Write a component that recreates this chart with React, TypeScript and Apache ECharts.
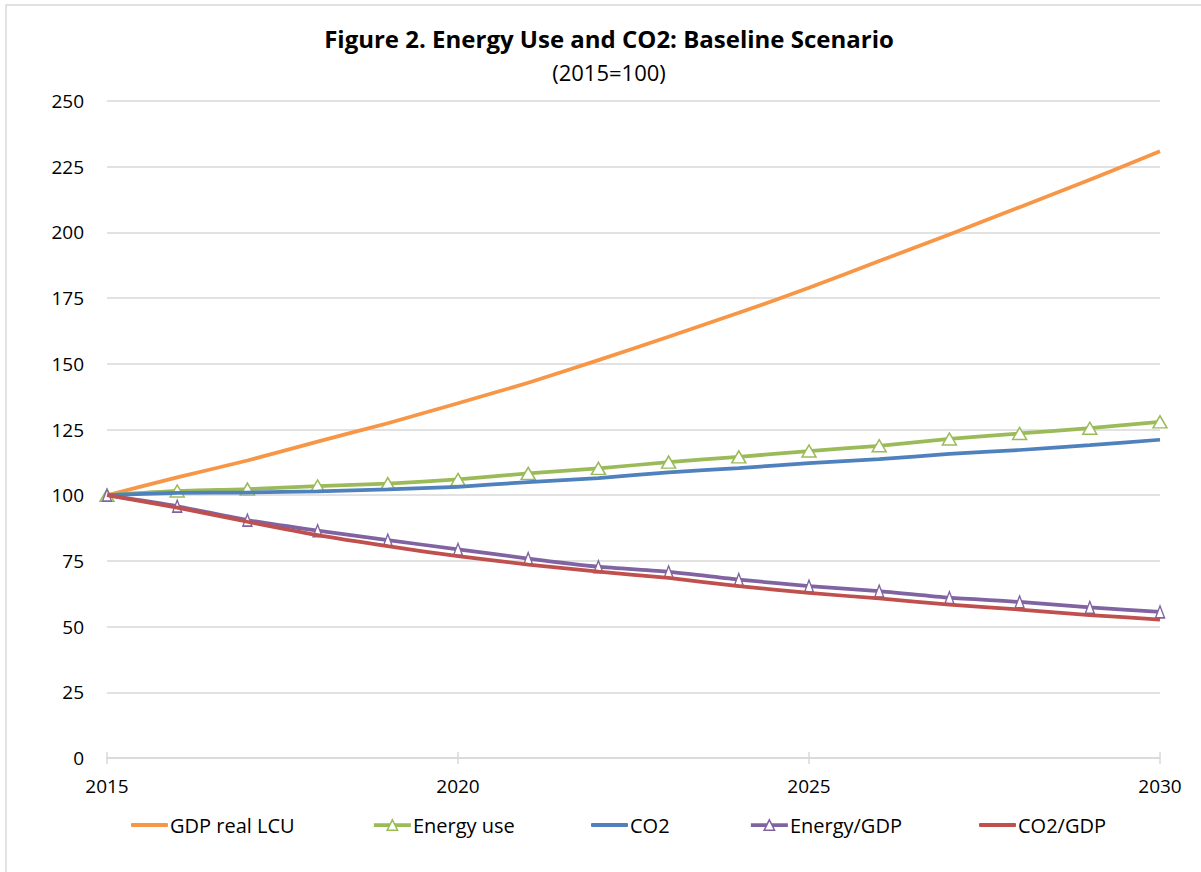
import React, { useEffect, useRef } from "react";
import * as echarts from "echarts";

const years = [2015, 2016, 2017, 2018, 2019, 2020, 2021, 2022, 2023, 2024, 2025, 2026, 2027, 2028, 2029, 2030];
const gdp = [100, 106.8, 113.2, 120.4, 127.4, 135, 142.8, 151.4, 160.3, 169.4, 178.9, 189.1, 199.2, 209.6, 220, 230.9];
const energy = [100, 101.6, 102.3, 103.5, 104.4, 106, 108.3, 110.2, 112.6, 114.6, 116.8, 118.8, 121.4, 123.5, 125.5, 127.9];
const co2 = [100, 100.9, 101, 101.5, 102.2, 103.2, 105, 106.5, 108.7, 110.3, 112.2, 113.7, 115.7, 117.2, 119.1, 121.1];
const energyGdp = [100, 95.8, 90.5, 86.5, 82.9, 79.4, 75.9, 72.8, 70.8, 67.9, 65.4, 63.5, 61, 59.4, 57.3, 55.6];
const co2Gdp = [100, 95.3, 89.9, 84.8, 80.6, 76.8, 73.6, 70.9, 68.5, 65.4, 62.8, 60.7, 58.4, 56.5, 54.4, 52.7];

const seriesNames = ["GDP real LCU", "Energy use", "CO2", "Energy/GDP", "CO2/GDP"];
const seriesColors = ["#f79646", "#9bbb59", "#4f81bd", "#8064a2", "#c0504d"];
const legendLefts = [131, 372, 591, 749, 979];

const FONT = "'Open Sans', 'Noto Sans', sans-serif";

export default function App() {
  const ref = useRef<HTMLDivElement>(null);
  useEffect(() => {
    if (!ref.current) return;
    const chart = echarts.init(ref.current, null, { renderer: "svg" });
    const values = [gdp, energy, co2, energyGdp, co2Gdp];
    const series = values.map((arr, i) => {
      const hasMarker = i === 1 || i === 3;
      return {
        name: seriesNames[i],
        type: "line",
        data: years.map((y, k) => [y, arr[k]]),
        smooth: 0.2,
        symbol: hasMarker ? "triangle" : "none",
        symbolSize: i === 1 ? [14, 12] : [9, 12],
        showSymbol: hasMarker,
        lineStyle: { color: seriesColors[i], width: 3.75 },
        itemStyle: hasMarker
          ? { color: "#ffffff", borderColor: seriesColors[i], borderWidth: 1.5 }
          : { color: seriesColors[i] },
        emphasis: { disabled: true },
        z: 2 + i,
      };
    });
    const legends = seriesNames.map((n, i) => {
      const hasMarker = i === 1 || i === 3;
      const base: any = {
        data: [n],
        left: legendLefts[i],
        top: 815,
        padding: 0,
        itemWidth: 37,
        itemGap: 2,
        textStyle: { fontSize: 20, color: "#000", fontFamily: FONT, padding: [0, 0, 0, -3] },
        selectedMode: false,
      };
      if (hasMarker) {
        base.itemHeight = 13;
        base.itemStyle = { color: "#ffffff", borderColor: seriesColors[i], borderWidth: 1.5 };
        base.lineStyle = { color: seriesColors[i], width: 3.75 };
      } else {
        base.itemHeight = 4;
        base.icon = "roundRect";
        base.itemStyle = { color: seriesColors[i] };
      }
      return base;
    });
    chart.setOption({
      animation: false,
      textStyle: { fontFamily: FONT },
      title: [
        {
          text: "Figure 2. Energy Use and CO2: Baseline Scenario",
          left: 604,
          top: 21,
          textAlign: "center",
          textStyle: { fontSize: 24, fontWeight: "bold", color: "#000", fontFamily: FONT },
        },
        {
          text: "(2015=100)",
          left: 604,
          top: 56,
          textAlign: "center",
          textStyle: { fontSize: 22, fontWeight: "normal", color: "#000", fontFamily: FONT },
        },
      ],
      legend: legends,
      grid: { left: 107, right: 41, top: 101, bottom: 114, containLabel: false },
      xAxis: [
        {
          type: "value",
          min: 2015,
          max: 2030,
          interval: 5,
          axisLine: { lineStyle: { color: "#d9d9d9", width: 1.5 } },
          axisTick: { show: true, length: 6, lineStyle: { color: "#d9d9d9", width: 1.5 } },
          axisLabel: { fontSize: 19, color: "#000", margin: 18, fontFamily: FONT, formatter: (v: number) => String(v) },
          splitLine: { show: false },
        },
        {
          type: "value",
          position: "bottom",
          min: 2015,
          max: 2030,
          interval: 5,
          axisLine: { show: false },
          axisTick: { show: true, inside: true, length: 6, lineStyle: { color: "#d9d9d9", width: 1.5 } },
          axisLabel: { show: false },
          splitLine: { show: false },
        },
      ],
      yAxis: {
        type: "value",
        min: 0,
        max: 250,
        interval: 25,
        axisLine: { show: false },
        axisTick: { show: false },
        axisLabel: { fontSize: 19, color: "#000", margin: 23, fontFamily: FONT },
        splitLine: { lineStyle: { color: "#d9d9d9", width: 1.5 } },
      },
      graphic: [
        {
          type: "rect",
          shape: { x: 6, y: 5, width: 1210, height: 880 },
          style: { fill: "none", stroke: "#d9d9d9", lineWidth: 1.5 },
          silent: true,
        },
      ],
      series,
    });
    return () => chart.dispose();
  }, []);
  return (
    <div
      ref={ref}
      style={{ position: "fixed", left: 0, top: 0, width: 1201, height: 872, background: "#fff" }}
    />
  );
}
